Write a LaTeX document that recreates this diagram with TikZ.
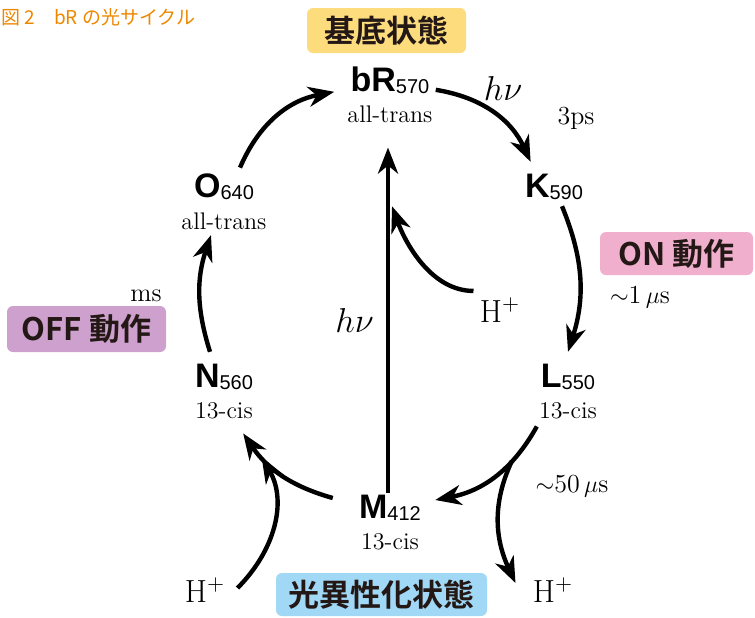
\documentclass[tikz,border=0pt]{standalone}
\usepackage{fontspec}
\setsansfont{Liberation Sans}
\newfontfamily\jpfont{Noto Sans CJK JP}[BoldFont={* Bold}]
\usetikzlibrary{arrows.meta, positioning}

\definecolor{titleorange}{HTML}{EE8700}
\definecolor{baseyellow}{HTML}{FDDC7E}
\definecolor{onpink}{HTML}{F0AFCD}
\definecolor{offpurple}{HTML}{CDA0CD}
\definecolor{isoblue}{HTML}{A0D8F5}
\definecolor{boxtext}{HTML}{231815}

\newcommand{\statename}[2]{{\sffamily\bfseries\fontsize{17}{17}\selectfont #1}{\sffamily\fontsize{10}{10}\selectfont\raisebox{-1pt}{#2}}}

\tikzset{
  cyc/.style={line width=2.2pt, ->},
  state/.style={inner sep=1pt},
  conf/.style={inner sep=1pt, font=\fontsize{12}{12}\selectfont},
  rate/.style={inner sep=1pt, font=\fontsize{13}{13}\selectfont},
  proton/.style={inner sep=1pt, font=\fontsize{16}{16}\selectfont},
  phase/.style={rounded corners=3pt, text=boxtext, inner sep=0pt,
    font=\jpfont\bfseries\fontsize{15.5}{15.5}\selectfont},
}

\begin{document}
\begin{tikzpicture}[>={Stealth[length=13pt, width=10pt, inset=4pt]}, x=0.5pt, y=-0.5pt]
\useasboundingbox (0,0) rectangle (755,617);
\node[anchor=west, inner sep=0pt, text=titleorange, font=\jpfont\fontsize{9.5}{9.5}\selectfont] (title) at (1,17) {図 2\quad bR の光サイクル};
% states
\node[state] (bR) at (390,80) {\statename{bR}{570}};
\node[conf, below=4pt of bR] (bRc) {all-trans};
\node[state] (K) at (554,187) {\statename{K}{590}};
\node[state] (L) at (568,377) {\statename{L}{550}};
\node[conf, below=4pt of L] (Lc) {13-cis};
\node[state] (M) at (390,508) {\statename{M}{412}};
\node[conf, below=4pt of M] (Mc) {13-cis};
\node[state] (N) at (224,377) {\statename{N}{560}};
\node[conf, below=4pt of N] (Nc) {13-cis};
\node[state] (O) at (224,187) {\statename{O}{640}};
\node[conf, below=4pt of O] (Oc) {all-trans};
% phases
\node[phase, fill=baseyellow, minimum width=79.5pt, minimum height=22.5pt] (ground) at (386.5,30.5) {基底状態};
\node[phase, fill=onpink, minimum width=76.5pt, minimum height=21.5pt] (on) at (676.5,253.5) {ON 動作};
\node[phase, fill=offpurple, minimum width=79.5pt, minimum height=23pt] (off) at (86.5,329) {OFF 動作};
\node[phase, fill=isoblue, minimum width=105.5pt, minimum height=21.5pt] (iso) at (381.5,594.5) {光異性化状態};
% labels
\node[proton] (hvK) at (503,88) {$h\nu$};
\node[rate] (tK) at (576,118) {3ps};
\node[rate] (tL) at (640,297) {$\sim$1\,$\mu$s};
\node[rate] (tM) at (572,486) {$\sim$50\,$\mu$s};
\node[rate] (tO) at (146,296) {ms};
\node[proton] (Hin) at (500,310) {H$^+$};
\node[proton] (Hout) at (553,590) {H$^+$};
\node[proton] (Hret) at (205,590) {H$^+$};
% cycle
\draw[cyc] ([xshift=2pt, yshift=3pt]bR.south east) to[bend left=28] ([xshift=4pt, yshift=5pt]K.north west);
\draw[cyc] ([xshift=4pt, yshift=-2pt]K.south) to[bend left=20] ([yshift=5pt]L.north);
\draw[cyc] ([yshift=-2.5pt]Lc.south west) to[bend left=25] coordinate[pos=.32] (lm) ([xshift=6pt, yshift=4pt]M.east);
\draw[cyc] ([xshift=-12pt, yshift=5pt]M.west) to[bend left=20] coordinate[pos=.75] (mn) ([xshift=-6pt, yshift=-6pt]Nc.south east);
\draw[cyc] ([xshift=-7pt, yshift=5pt]N.north) to[bend left=18] ([xshift=-6.5pt, yshift=-1.5pt]Oc.south);
\draw[cyc] ([xshift=8pt, yshift=2pt]O.north) to[bend left=28] ([xshift=-7pt, yshift=2pt]bR.south west);
\draw[cyc] ([xshift=-1pt]M.north) -- node[proton, pos=.5, left=5pt] (hvM) {$h\nu$} coordinate[pos=.83] (mh) ([xshift=-1pt, yshift=-11pt]bRc.south);
% protons
\draw[cyc] ([xshift=-2pt, yshift=2pt]Hin.north west) to[out=180, in=-70, looseness=0.9] ([xshift=2pt]mh);
\draw[cyc] ([xshift=5pt, yshift=1pt]Hret.east) to[out=45, in=-60] (mn);
\draw[cyc] (lm) to[out=-115, in=115] ([xshift=-7.5pt, yshift=3.5pt]Hout.west);
\end{tikzpicture}
\end{document}
